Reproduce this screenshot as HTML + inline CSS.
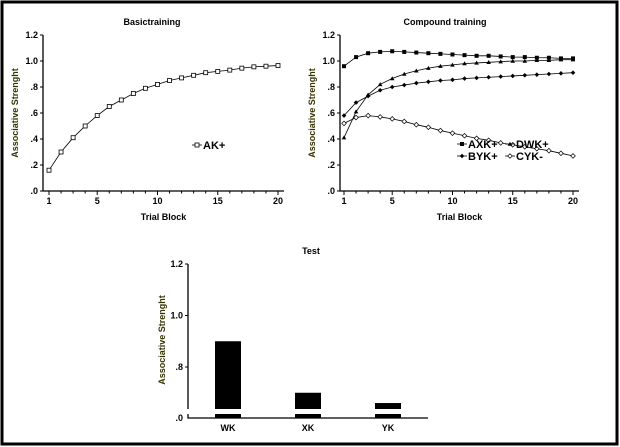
<!DOCTYPE html>
<html><head><meta charset="utf-8"><style>
body{margin:0;background:#fff}
svg{display:block;font-family:"Liberation Sans",Arial,sans-serif;font-weight:bold}
text{font-size:9px}
</style></head><body>
<svg id="svg" width="620" height="447" viewBox="0 0 620 447">
<rect x="2" y="2" width="615" height="442" fill="#fff" stroke="#000" stroke-width="3"/>
<g id="g"></g>
</svg>
<script>
const trials=[1,2,3,4,5,6,7,8,9,10,11,12,13,14,15,16,17,18,19,20];
const akValues=[.16,.30,.41,.50,.58,.65,.70,.75,.79,.82,.85,.87,.89,.91,.92,.93,.945,.955,.96,.965];
const axkValues=[.96,1.03,1.06,1.07,1.075,1.07,1.065,1.06,1.055,1.05,1.045,1.04,1.04,1.035,1.03,1.03,1.025,1.025,1.02,1.02];
const dwkValues=[.41,.61,.74,.82,.865,.90,.925,.945,.96,.97,.98,.985,.99,.995,1.0,1.0,1.005,1.005,1.01,1.01];
const bykValues=[.58,.68,.73,.775,.80,.815,.83,.84,.85,.855,.865,.87,.875,.88,.885,.89,.895,.90,.905,.91];
const cykValues=[.52,.565,.58,.57,.555,.535,.51,.49,.465,.445,.425,.405,.39,.37,.355,.34,.325,.31,.29,.27];
const yTicks=[0,.2,.4,.6,.8,1.0,1.2];
const yTickLabels=['.0','.2','.4','.6','.8','1.0','1.2'];
const xTicks=[1,5,10,15,20];
const testCats=['WK','XK','YK'];
const testValues=[.90,.70,.66];
const testTicks=[.8,1.0,1.2];
const testTickLabels=['.8','1.0','1.2'];

const NS='http://www.w3.org/2000/svg';
const G=document.getElementById('g');
function el(t,a,p){const e=document.createElementNS(NS,t);for(const k in a)e.setAttribute(k,a[k]);(p||G).appendChild(e);return e;}
function txt(x,y,s,anchor,name,extra){const e=el('text',Object.assign({x:x,y:y,'text-anchor':anchor||'middle'},extra||{}));e.textContent=s;


return e;}

function linePanel(px,x0,x1,axEnd,title,titleX,series){
  const yT=35,yB=191;
  const X=v=>x0+(v-1)*(x1-x0)/19;
  const Y=v=>yB-v*(yB-yT)/1.2;
  const ax=el('path',{d:`M${px} ${yT} V${yB} H${axEnd}`,stroke:'#000',fill:'none','stroke-width':1.3});
  
  
  yTicks.forEach((t,i)=>{const tk=el('line',{x1:px-3,x2:px,y1:Y(t),y2:Y(t),stroke:'#000'});
    
    
    txt(px-5,Y(t)+3,yTickLabels[i],'end','y-tick-label');});
  trials.forEach(t=>{const tk=el('line',{x1:X(t),x2:X(t),y1:yB,y2:yB+(xTicks.includes(t)?4:2.5),stroke:'#000'});
    
    });
  xTicks.forEach(t=>txt(X(t),yB+13,String(t),'middle','x-tick-label'));
  txt(titleX,25,title,'middle','chart-title');
  txt((px+axEnd)/2,220,'Trial Block','middle','x-axis-title');
  txt(0,0,'Associative Strenght','middle','y-axis-title',{transform:`translate(${px-25},${(yT+yB)/2}) rotate(-90)`,fill:'#333300'});
  series.forEach(s=>{
    const pl=el('polyline',{points:s.vals.map((v,i)=>X(trials[i])+','+Y(v)).join(' '),fill:'none',stroke:'#000','stroke-width':0.8});
    
    
    s.vals.forEach((v,i)=>marker(s.m,X(trials[i]),Y(v),s.name));
  });
}
function marker(m,x,y,name){
  let e;
  if(m==='osq')e=el('rect',{x:x-2,y:y-2,width:4,height:4,fill:'#fff',stroke:'#000','stroke-width':0.8});
  else if(m==='fsq')e=el('rect',{x:x-2,y:y-2,width:4,height:4,fill:'#000'});
  else if(m==='fdi')e=el('path',{d:`M${x} ${y-2.3}L${x+2.3} ${y}L${x} ${y+2.3}L${x-2.3} ${y}Z`,fill:'#000'});
  else if(m==='odi')e=el('path',{d:`M${x} ${y-2.3}L${x+2.3} ${y}L${x} ${y+2.3}L${x-2.3} ${y}Z`,fill:'#fff',stroke:'#000','stroke-width':0.7});
  else e=el('path',{d:`M${x} ${y-2.3}L${x+2.3} ${y+1.7}L${x-2.3} ${y+1.7}Z`,fill:'#000'});
  
  
}
function legend(x,y,m,label){
  const l=el('line',{x1:x-5,x2:x+5,y1:y,y2:y,stroke:'#000','stroke-width':0.8});
  
  
  marker(m,x,y,'legend');
  const t=txt(x+6,y+4,label,'start','legend-entry');t.style.fontSize='11px';
}

linePanel(43,49,278,284,'Basictraining',152,[{name:'ak',vals:akValues,m:'osq'}]);
legend(197,145,'osq','AK+');
linePanel(340,344,573,579,'Compound training',445,[
 {name:'cyk',vals:cykValues,m:'odi'},
 {name:'axk',vals:axkValues,m:'fsq'},
 {name:'dwk',vals:dwkValues,m:'tri'},
 {name:'byk',vals:bykValues,m:'fdi'}]);
legend(462,144,'fsq','AXK+');legend(510,144,'tri','DWK+');
legend(462,156,'fdi','BYK+');legend(510,156,'odi','CYK-');

(function(){
  const axX=188,axEnd=428,y0=418,breakTop=409,breakBot=414;
  const Y=v=>367-(v-.8)*257.5;
  const centers=i=>228+i*80;
  const a1=el('path',{d:`M${axX} 264 V${breakTop} M${axX} ${breakBot} V${y0} H${axEnd}`,stroke:'#000',fill:'none','stroke-width':1.3});
  
  
  testTicks.forEach((t,i)=>{const tk=el('line',{x1:axX-3,x2:axX,y1:Y(t),y2:Y(t),stroke:'#000'});
    
    
    txt(axX-5,Y(t)+3,testTickLabels[i],'end','y-tick-label');});
  txt(axX-5,y0+3,'.0','end','y-tick-label');
  txt(311,254,'Test','middle','chart-title');
  txt(0,0,'Associative Strenght','middle','y-axis-title',{transform:`translate(165,340) rotate(-90)`,fill:'#333300'});
  testValues.forEach((v,i)=>{
    const b=el('rect',{x:centers(i)-13,y:Y(v),width:26,height:breakTop-Y(v),fill:'#000'});
    
    
    const s=el('rect',{x:centers(i)-13,y:breakBot,width:26,height:y0-breakBot,fill:'#000'});
    
    
    txt(centers(i),431,testCats[i],'middle','x-tick-label');
  });
})();
</script>
</body></html>
